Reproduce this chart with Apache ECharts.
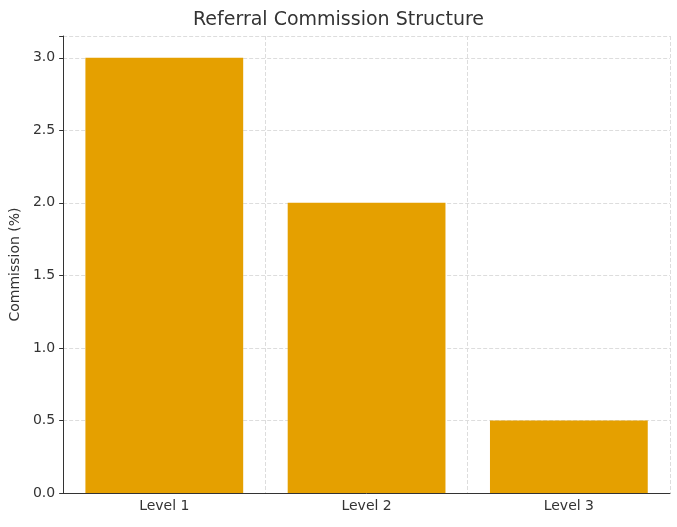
<!DOCTYPE html>
<html><head><meta charset="utf-8">
<script src="https://cdn.jsdelivr.net/npm/echarts@6/dist/echarts.min.js"></script>
<style>html,body{margin:0;padding:0;background:#fff}#c{width:677px;height:527px}</style>
</head><body><div id="c"></div>
<script>
const categories = ["Level 1", "Level 2", "Level 3"];
const commission = [3.0, 2.0, 0.5];
const yTicks = [0, 0.5, 1.0, 1.5, 2.0, 2.5, 3.0];
const chart = echarts.init(document.getElementById('c'));
const font = "DejaVu Sans";
chart.setOption({
  animation: false,
  textStyle: {fontFamily: font},
  title: {text: "Referral Commission Structure", left: 'center', top: 6,
    textStyle: {fontFamily: font, fontSize: 19, fontWeight: 'normal', color: '#333'}},
  grid: {left: 56, right: 7, top: 36, bottom: 34},
  xAxis: {type: 'category', data: categories,
    axisLine: {lineStyle: {color: '#333'}},
    axisTick: {alignWithLabel: true, length: 4, lineStyle: {color: '#333'}},
    axisLabel: {color: '#333', fontSize: 14, fontFamily: font, margin: 6},
    splitLine: {show: true, lineStyle: {type: 'dashed', color: '#ddd'}}},
  yAxis: {type: 'value', min: 0, max: 3.15, interval: 0.5,
    name: "Commission (%)", nameLocation: 'middle', nameGap: 40,
    nameTextStyle: {color: '#333', fontSize: 14, fontFamily: font},
    axisLine: {show: true, lineStyle: {color: '#333'}},
    axisTick: {show: true, length: 4, lineStyle: {color: '#333'}},
    axisLabel: {color: '#333', fontSize: 14, fontFamily: font,
      formatter: v => yTicks.includes(v) ? v.toFixed(1) : ''},
    splitLine: {show: true, lineStyle: {type: 'dashed', color: '#ddd'}}},
  series: [{type: 'bar', data: commission, barWidth: '78%',
    itemStyle: {color: '#E5A000'}}]
});
</script></body></html>
